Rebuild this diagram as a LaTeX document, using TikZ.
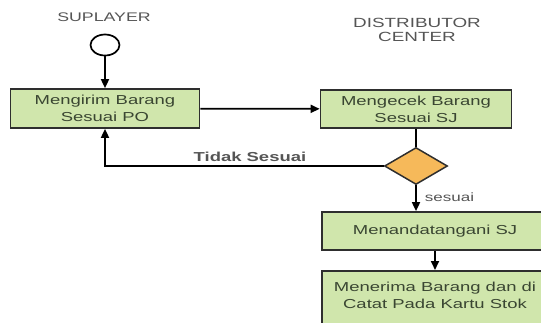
\documentclass[tikz,border=0pt]{standalone}
\usepackage{fontspec}
\setmainfont{Liberation Sans}[FakeStretch=1.42]
\usetikzlibrary{shapes.geometric,arrows.meta}
\definecolor{boxgreen}{HTML}{D0E6AC}
\definecolor{boxedge}{HTML}{2E2E2E}
\definecolor{boxtextc}{HTML}{3A4632}
\definecolor{decorange}{HTML}{F6B95A}
\definecolor{lanegray}{HTML}{555555}
\tikzset{
  stepbox/.style={draw=boxedge, line width=1.7pt, fill=boxgreen, rectangle,
    inner sep=0pt, text=boxtextc, align=center, font=\fontsize{13}{17}\selectfont},
  boxtext/.style={text=boxtextc, align=center, inner sep=0pt, font=\fontsize{13}{17}\selectfont},
  lanelabel/.style={text=lanegray, align=center, inner sep=0pt, font=\fontsize{12.5}{14.5}\selectfont},
  flow/.style={draw=black, line width=1.7pt, -{Triangle[length=9pt,width=8pt]}},
  plainflow/.style={draw=black, line width=1.7pt},
  choice/.style={diamond, draw=boxedge, line width=1.5pt, fill=decorange, inner sep=0pt,
    minimum width=63pt, minimum height=37pt},
  startnode/.style={ellipse, draw=black, line width=1.7pt, fill=white, inner sep=0pt,
    minimum width=29pt, minimum height=21pt}
}
\begin{document}
\begin{tikzpicture}[x=1pt, y=-1pt]
\useasboundingbox (0,0) rectangle (541,322);
\clip (0,0) rectangle (541,322);

% swimlane titles
\node[lanelabel] (suplabel) at (104,17) {SUPLAYER};
\node[lanelabel, font=\fontsize{13.3}{14.5}\selectfont] (distlabel) at (417,30) {DISTRIBUTOR\\CENTER};

% start
\node[startnode] (start) at (105,45) {};

% process steps
\node[stepbox, minimum width=189pt, minimum height=39pt] (b1) at (105,108.5) {Mengirim Barang\\Sesuai PO};
\node[stepbox, minimum width=191pt, minimum height=38pt] (b2) at (416,109) {Mengecek Barang\\Sesuai SJ};
\node[choice] (dec) at (416,166) {};
\node[stepbox, minimum width=226pt, minimum height=38pt] (b3) at (435,231) {Menandatangani SJ};
\node[stepbox, minimum width=226pt, minimum height=70pt, anchor=north] (b4) at (435,270) {};
\node[boxtext] (b4t) at (435,295) {Menerima Barang dan di\\Catat Pada Kartu Stok};

% connectors
\draw[flow] (start) -- (b1);
\draw[flow] (b1) -- (b2);
\draw[plainflow] (b2.south) -- (dec.north);
\draw[flow] (dec.west) -| (b1.south)
  node[pos=0.24, above=4pt, inner sep=0pt, text=lanegray, font=\bfseries\fontsize{13}{15}\selectfont] (tidak) {Tidak Sesuai};
\draw[flow] (dec.south) -- (dec.south |- b3.north)
  node[pos=0.45, right=8pt, inner sep=0pt, text=lanegray, font=\fontsize{12}{13}\selectfont] (sesuai) {sesuai};
\draw[flow] (b3.south) -- (b4.north);
\end{tikzpicture}
\end{document}
